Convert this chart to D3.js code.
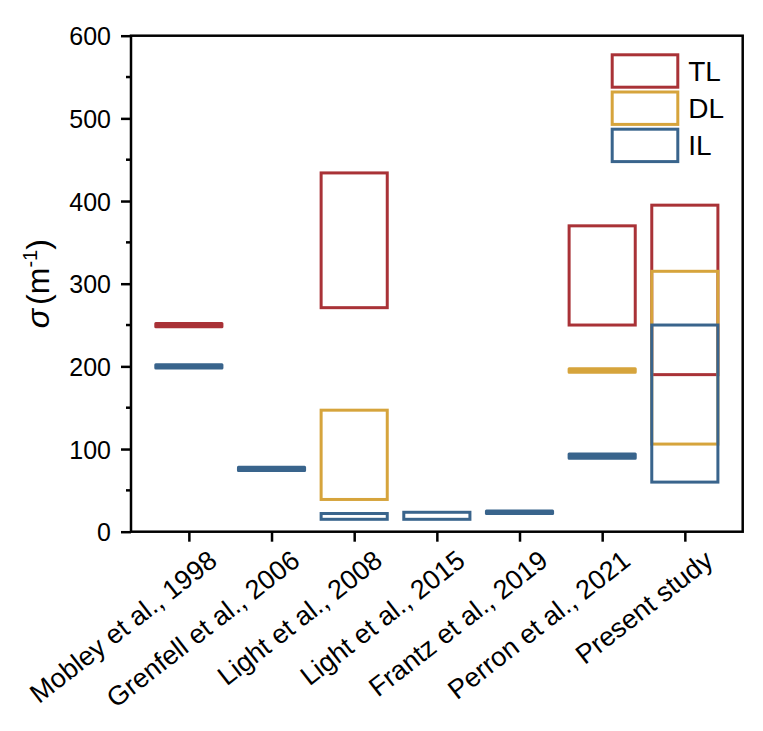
<!DOCTYPE html>
<html>
<head>
<meta charset="utf-8">
<script src="https://cdn.jsdelivr.net/npm/d3@7"></script>
<style>
  body { margin: 0; background: #fff; }
  text { font-family: "Liberation Sans", Arial, sans-serif; fill: #000; }
</style>
</head>
<body>
<svg id="chart" width="763" height="731"></svg>
<script>
// studies on the x axis
var studies = ["Mobley et al., 1998", "Grenfell et al., 2006", "Light et al., 2008",
    "Light et al., 2015", "Frantz et al., 2019", "Perron et al., 2021", "Present study"];

// sigma ranges (m^-1), low and high for each layer, null = not reported
var tlLow  = [248, null, 271, null, null, 250, 190];
var tlHigh = [252, null, 434, null, null, 370, 395];
var dlLow  = [null, null, 39, null, null, 193, 106];
var dlHigh = [null, null, 147, null, null, 197, 315];
var ilLow  = [198, 74, 15, 15, 22, 89, 60];
var ilHigh = [202, 78, 22, 23.5, 25, 94, 250];

var layerNames = ["TL", "DL", "IL"];
var layerColors = ["#a93237", "#d6a43c", "#39648c"];
var yTicks = [0, 100, 200, 300, 400, 500, 600];

var svg = d3.select("#chart"),
    margin = {top: 35.7, right: 20.3, bottom: 199.3, left: 131},
    width = 763 - margin.left - margin.right,
    height = 731 - margin.top - margin.bottom,
    g = svg.append("g").attr("transform", "translate(" + margin.left + "," + margin.top + ")");

var x = d3.scaleLinear().domain([0.3, 7.7]).range([0, width]);
var y = d3.scaleLinear().domain([0, 600]).range([height, 0]);
var boxW = 0.8;

// boxes, TL first so IL ends up on top
var layers = [[tlLow, tlHigh], [dlLow, dlHigh], [ilLow, ilHigh]];
layers.forEach(function (pair, k) {
    var rows = [];
    for (var i = 0; i < studies.length; i++) {
        if (pair[0][i] != null) rows.push({i: i + 1, lo: pair[0][i], hi: pair[1][i]});
    }
    g.selectAll(".box" + k)
        .data(rows)
        .enter().append("rect")
        .attr("class", "box" + k)
        .attr("x", function (d) { return x(d.i - boxW / 2); })
        .attr("width", function (d) { return x(d.i + boxW / 2) - x(d.i - boxW / 2); })
        .attr("y", function (d) { return y(d.hi); })
        .attr("height", function (d) { return y(d.lo) - y(d.hi); })
        // nearly equal low/high shows as one solid bar
        .attr("fill", function (d) { return (y(d.lo) - y(d.hi)) < 5 ? layerColors[k] : "none"; })
        .attr("stroke", layerColors[k])
        .attr("stroke-width", 3)
        .attr("stroke-linejoin", function (d) { return (y(d.lo) - y(d.hi)) < 5 ? "round" : "miter"; });
});

// left axis
var yAxis = g.append("g")
    .call(d3.axisLeft(y).tickValues(yTicks).tickSize(10).tickPadding(10).tickFormat(d3.format("d")));
yAxis.select(".domain").remove();
yAxis.selectAll("line").attr("stroke", "#000").attr("stroke-width", 2.5);
yAxis.selectAll("text").style("font-size", "25px").attr("dy", "0.36em");

// minor ticks
g.append("g").selectAll("line")
    .data([50, 150, 250, 350, 450, 550])
    .enter().append("line")
    .attr("x1", -5).attr("x2", 0)
    .attr("y1", function (d) { return y(d); })
    .attr("y2", function (d) { return y(d); })
    .attr("stroke", "#000").attr("stroke-width", 2.5);

// bottom axis
var xAxis = g.append("g")
    .attr("transform", "translate(0," + height + ")")
    .call(d3.axisBottom(x).tickValues(d3.range(1, studies.length + 1)).tickSize(10).tickFormat(""));
xAxis.select(".domain").remove();
xAxis.selectAll("line").attr("stroke", "#000").attr("stroke-width", 2.5);

g.append("g").selectAll("text")
    .data(studies)
    .enter().append("text")
    .attr("transform", function (d, i) {
        return "translate(" + (x(i + 1) + 30) + "," + (height + 32) + ") rotate(-38)";
    })
    .style("text-anchor", "end")
    .style("font-size", "27px")
    .text(function (d) { return d; });

// frame
g.append("rect")
    .attr("width", width).attr("height", height)
    .attr("fill", "none").attr("stroke", "#000").attr("stroke-width", 2.5);

// y title
var yt = svg.append("text")
    .attr("transform", "translate(49," + (margin.top + height / 2) + ") rotate(-90)")
    .style("text-anchor", "middle")
    .style("font-size", "32px");
yt.append("tspan").style("font-style", "italic").text("σ");
yt.append("tspan").attr("dx", 4).text("(m");
yt.append("tspan").attr("dy", -12).style("font-size", "20px").text("-1");
yt.append("tspan").attr("dy", 12).text(")");

// legend
var legend = svg.append("g").attr("transform", "translate(612.2,54.8)");
layerNames.forEach(function (name, k) {
    legend.append("rect")
        .attr("x", 0).attr("y", k * 37.2)
        .attr("width", 65.6).attr("height", 32.4)
        .attr("fill", "none")
        .attr("stroke", layerColors[k])
        .attr("stroke-width", 3);
    legend.append("text")
        .attr("x", 76).attr("y", k * 37.2 + 16.2)
        .attr("dy", "0.36em")
        .style("font-size", "28px")
        .text(name);
});
</script>
</body>
</html>
